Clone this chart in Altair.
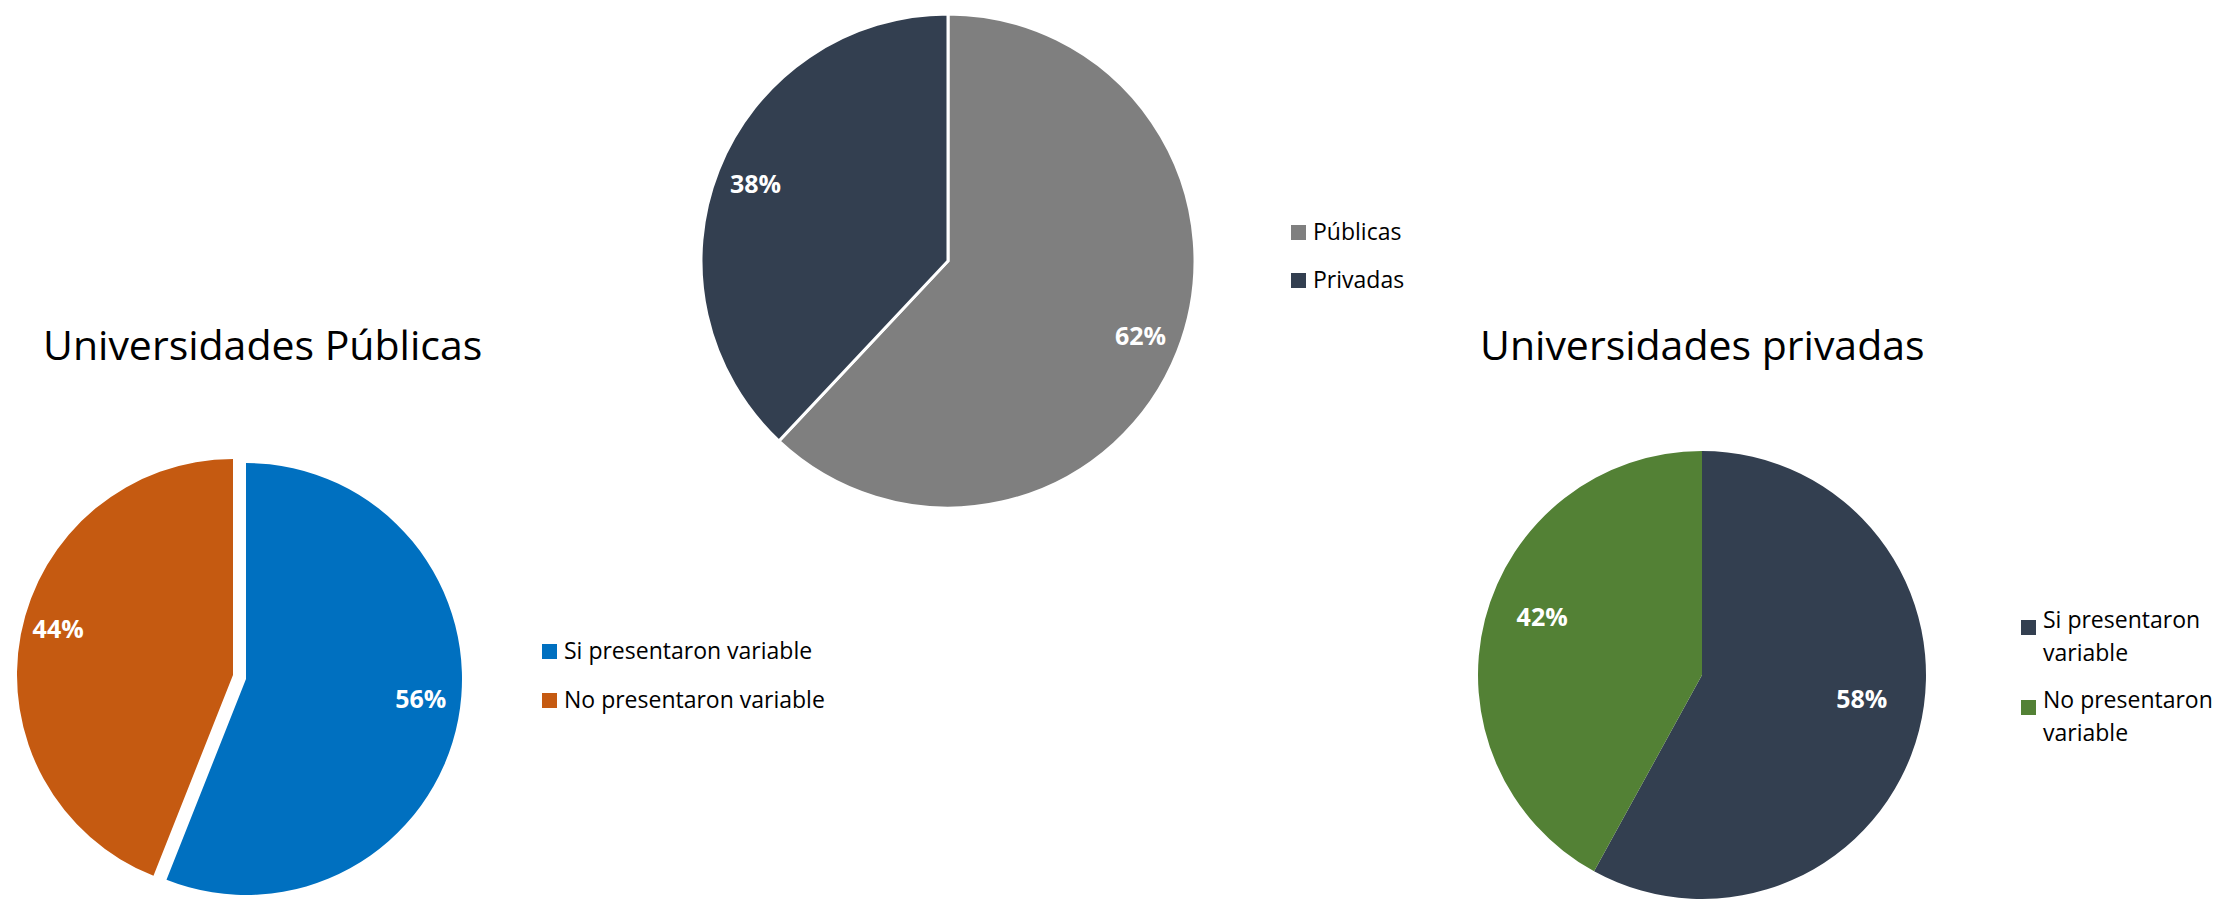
import altair as alt
import pandas as pd

# ---------------- data ----------------
mid_cats = ["Públicas", "Privadas"]
mid_vals = [0.62, 0.38]
mid_colors = ["#7F7F7F", "#333F50"]

pub_cats = ["Si presentaron variable", "No presentaron variable"]
pub_vals = [0.56, 0.44]
pub_colors = ["#0070C0", "#C55A11"]

priv_cats = ["Si presentaron variable", "No presentaron variable"]
priv_vals = [0.58, 0.42]
priv_colors = ["#333F50", "#538135"]

title_pub = "Universidades Públicas"
title_priv = "Universidades privadas"

FONT = "Open Sans"


def frame(cats, vals):
    return pd.DataFrame({"cat": cats, "value": vals, "idx": list(range(len(cats)))})


def stacked(df):
    return (
        alt.Chart(df)
        .transform_stack(
            stack="value",
            groupby=[],
            as_=["t0", "t1"],
            sort=[alt.SortField("idx", order="ascending")],
            offset="normalize",
        )
        .transform_calculate(tm="(datum.t0 + datum.t1) / 2")
    )


def legend(x, y, row_pad, expr=None, baseline="middle"):
    kw = dict(
        orient="none", legendX=x, legendY=y, title=None,
        symbolType="square", symbolSize=225, symbolStrokeWidth=0,
        labelFont=FONT, labelFontSize=23, labelColor="#000000",
        labelLimit=500, labelOffset=3, rowPadding=row_pad, padding=0,
        labelBaseline=baseline,
    )
    if expr:
        kw["labelExpr"] = expr
    return alt.Legend(**kw)


def pie_layers(df, cats, colors, R, label_r, leg, stroke_w=0, explode_cat=None,
               ex=(0, 0), label_dy=0):
    base = stacked(df)
    theta = alt.Theta("t0:Q", scale=alt.Scale(domain=[0, 1]))
    color = alt.Color("cat:N", scale=alt.Scale(domain=cats, range=colors), legend=leg)
    arc_kw = dict(outerRadius=R)
    if stroke_w:
        arc_kw.update(stroke="white", strokeWidth=stroke_w)
    txt_kw = dict(radius=label_r, font=FONT, fontSize=25, fontWeight="bold", color="white")
    tenc = dict(theta=alt.Theta("tm:Q", scale=alt.Scale(domain=[0, 1])),
                text=alt.Text("value:Q", format=".0%"))
    if explode_cat is None:
        arc = base.mark_arc(**arc_kw).encode(theta=theta, theta2="t1:Q", color=color)
        txt = base.mark_text(yOffset=label_dy, **txt_kw).encode(**tenc)
        return [arc, txt]
    keep = alt.datum.cat != explode_cat
    out = alt.datum.cat == explode_cat
    arc1 = base.transform_filter(keep).mark_arc(**arc_kw).encode(theta=theta, theta2="t1:Q", color=color)
    arc2 = base.transform_filter(out).mark_arc(xOffset=ex[0], yOffset=ex[1], **arc_kw).encode(
        theta=theta, theta2="t1:Q", color=color)
    t1 = base.transform_filter(keep).mark_text(yOffset=label_dy, **txt_kw).encode(**tenc)
    t2 = base.transform_filter(out).mark_text(xOffset=ex[0], yOffset=ex[1] + label_dy,
                                              **txt_kw).encode(**tenc)
    return [arc1, arc2, t1, t2]


def spacer(w, h):
    return alt.Chart(pd.DataFrame({"v": [0]})).mark_point(opacity=0).properties(width=w, height=h)


def title(text, dx, offset):
    return alt.TitleParams(text, font=FONT, fontSize=41, fontWeight="normal", color="#000000",
                           anchor="start", frame="group", dx=dx, offset=offset, baseline="alphabetic")


WL, WM, WR = 476, 928, 580
HM = 494
HL, HR = 342, 334

middle = alt.layer(*pie_layers(
    frame(mid_cats, mid_vals), mid_cats, mid_colors, 247, 207,
    legend(803, 207, 24), stroke_w=3,
)).properties(width=WM, height=HM)

left = alt.layer(*pie_layers(
    frame(pub_cats, pub_vals), pub_cats, pub_colors, 216, 178,
    legend(530, 132, 25), explode_cat=pub_cats[1], ex=(-13, -4), label_dy=-12,
)).properties(width=WL, height=HL, title=title(title_pub, 35, 58))

right = alt.layer(*pie_layers(
    frame(priv_cats, priv_vals), priv_cats, priv_colors, 224, 165,
    legend(605, 108, 23, expr="split(replace(datum.label, ' variable', '|variable'), '|')",
           baseline="alphabetic"),
    label_dy=-16,
)).properties(width=WR, height=HR, title=title(title_priv, 68, 50))

chart = (
    alt.concat(
        spacer(WL, 100), middle, spacer(WR, 100),
        left, spacer(WM, 100), right,
        columns=3, spacing=0, bounds="flush", align="each",
    )
    .resolve_scale(color="independent", theta="independent")
    .resolve_legend(color="independent")
    .properties(padding=0, background="white")
    .configure(style={"guide-label": {"lineHeight": 33}})
    .configure_view(strokeWidth=0)
)

chart.save("out.html", embed_options={"renderer": "svg", "actions": False})
